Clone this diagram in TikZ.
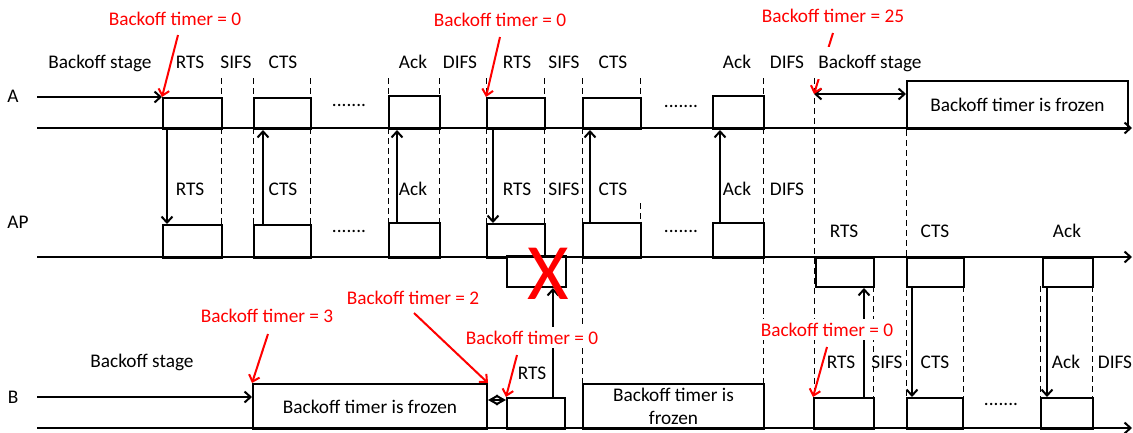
\documentclass[tikz,border=0pt]{standalone}
\usepackage{fontspec}
\setmainfont{Carlito}
\usetikzlibrary{arrows.meta,backgrounds}

\begin{document}
\begin{tikzpicture}[
  x=1pt, y=-1pt,
  font=\fontsize{19.3}{23}\selectfont,
  >={Straight Barb[length=6pt,width=11pt]},
  pkt/.style={draw,line width=2pt,fill=white,inner sep=0pt,anchor=north west,align=center},
  axis/.style={->,line width=2pt},
  ar/.style={->,line width=2pt},
  guide/.style={dash pattern=on 6pt off 4pt,line width=1pt},
  lbl/.style={anchor=base,inner sep=0pt},
  note/.style={anchor=base,inner xsep=1pt,inner ysep=4pt,fill=white,text=red},
  redar/.style={->,line width=2pt,red},
]
\useasboundingbox (0,0) rectangle (1133,432);

% station A
\node[pkt,minimum width=59pt,minimum height=31pt] (arts1) at (162,97) {};
\node[pkt,minimum width=57pt,minimum height=31pt] (acts1) at (253,97) {};
\node[pkt,minimum width=51pt,minimum height=33pt] (aack1) at (388,95) {};
\node[pkt,minimum width=58pt,minimum height=31pt] (arts2) at (486,97) {};
\node[pkt,minimum width=58pt,minimum height=31pt] (acts2) at (582,97) {};
\node[pkt,minimum width=51pt,minimum height=33pt] (aack2) at (712,95) {};
\node[pkt,minimum width=221pt,minimum height=48pt] (afrz) at (906,80) {Backoff timer is frozen};

% access point, above and below its line
\node[pkt,minimum width=59pt,minimum height=33pt] (prts1) at (162,224) {};
\node[pkt,minimum width=57pt,minimum height=33pt] (pcts1) at (253,224) {};
\node[pkt,minimum width=51pt,minimum height=35pt] (pack1) at (388,222) {};
\node[pkt,minimum width=58pt,minimum height=34pt] (prts2) at (486,223) {};
\node[pkt,minimum width=58pt,minimum height=35pt] (pcts2) at (582,222) {};
\node[pkt,minimum width=51pt,minimum height=35pt] (pack2) at (712,222) {};
\node[pkt,minimum width=59pt,minimum height=31pt] (pcol) at (506,255) {};
\node[pkt,minimum width=58pt,minimum height=29pt] (prts3) at (815,257) {};
\node[pkt,minimum width=57pt,minimum height=29pt] (pcts3) at (906,257) {};
\node[pkt,minimum width=50pt,minimum height=29pt] (pack3) at (1042,257) {};

% station B
\node[pkt,minimum width=234pt,minimum height=45pt] (bfrz1) at (252,383) {Backoff timer is frozen};
\node[pkt,minimum width=58pt,minimum height=31pt] (brts1) at (506,397) {};
\node[pkt,minimum width=181pt,minimum height=45pt] (bfrz2) at (582,383) {Backoff timer is\\frozen};
\node[pkt,minimum width=60pt,minimum height=31pt] (brts2) at (813,397) {};
\node[pkt,minimum width=56pt,minimum height=31pt] (bcts) at (906,397) {};
\node[pkt,minimum width=52pt,minimum height=31pt] (back) at (1040,397) {};

% slot boundaries
\begin{scope}[on background layer]
  \draw[guide] (221,78) -- (221,224) (253,78) -- (253,224) (310,78) -- (310,224);
  \draw[guide] (388,78) -- (388,222) (439,78) -- (439,222);
  \draw[guide] (486,78) -- (486,223) (544,78) -- (544,223);
  \draw[guide] (582,78) -- (582,383) (640,78) -- (640,97) (640,203) -- (640,222);
  \draw[guide] (763,78) -- (763,383) (814,78) -- (814,397) (906,80) -- (906,397);
  \draw[guide] (873,286) -- (873,397) (963,286) -- (963,397);
  \draw[guide] (1040,286) -- (1040,397) (1092,286) -- (1092,397);
\end{scope}

% time lines
\coordinate (lA) at (37,128);  \coordinate (eA) at (1132,128);
\coordinate (lP) at (37,257);  \coordinate (eP) at (1132,257);
\coordinate (lB) at (37,428);  \coordinate (eB) at (1132,428);
\draw[axis] (lA) -- (eA);
\draw[axis] (lP) -- (eP);
\draw[axis] (lB) -- (eB);

\coordinate (sA) at (37,97);
\coordinate (sB) at (37,397);
\coordinate (bsA) at (814,94);
\draw[ar] (sA) -- (arts1.north west);
\draw[ar] (sB) -- (sB -| bfrz1.west);
\draw[ar,<->] (bsA) -- (bsA -| afrz.west);
\draw[ar,{Straight Barb[length=8pt,width=9pt]}-{Straight Barb[length=8pt,width=9pt]}]
  ([yshift=6.5pt]bfrz1.east) -- ([yshift=6.5pt]bfrz1.east -| brts1.west);

% frames between stations
\draw[ar] ([xshift=5pt]arts1.south west) -- ([xshift=5pt]prts1.north west);
\draw[ar] ([xshift=10pt]pcts1.north west) -- ([xshift=10pt]acts1.south west);
\draw[ar] ([xshift=9pt]pack1.north west) -- ([xshift=9pt]aack1.south west);
\draw[ar] ([xshift=7pt]arts2.south west) -- ([xshift=7pt]prts2.north west);
\draw[ar] ([xshift=8pt]pcts2.north west) -- ([xshift=8pt]acts2.south west);
\draw[ar] ([xshift=8pt]pack2.north west) -- ([xshift=8pt]aack2.south west);
\draw[ar] ([xshift=47pt]brts1.north west) -- ([xshift=47pt]pcol.south west);
\draw[ar] ([xshift=51pt]brts2.north west) -- ([xshift=51pt]brts2.north west |- prts3.south);
\draw[ar] ([xshift=6pt]pcts3.south west) -- ([xshift=6pt]bcts.north west);
\draw[ar] ([xshift=5pt]pack3.south west) -- ([xshift=5pt]pack3.south west |- back.north);

% backoff counters
\coordinate (r1s) at (178,35);
\coordinate (r2s) at (500,37);
\coordinate (r3s) at (833,33);
\coordinate (r4s) at (268,334);
\coordinate (r5s) at (414,313);
\coordinate (r6s) at (517,355);
\coordinate (r7s) at (827,347);
\draw[redar] (r1s) -- (arts1.north west);
\draw[redar] (r2s) -- (arts2.north west);
\draw[redar] (r3s) -- (bsA);
\draw[redar] (r4s) -- (bfrz1.north west);
\draw[redar] (r5s) -- (bfrz1.north east);
\draw[redar] (r6s) -- (brts1.north west);
\draw[redar] (r7s) -- (brts2.north west);

% station names
\node[lbl] (nA) at (13,102) {A};
\node[lbl] (nP) at (18,228) {AP};
\node[lbl] (nB) at (13,403) {B};

% labels above A
\node[lbl] (tbs1) at (100,68) {Backoff stage};
\node[lbl] (tr1) at (190,68) {RTS};
\node[lbl] (ts1) at (236,68) {SIFS};
\node[lbl] (tc1) at (283,68) {CTS};
\node[lbl] (ta1) at (413,68) {Ack};
\node[lbl] (td1) at (460,68) {DIFS};
\node[lbl] (tr2) at (517,68) {RTS};
\node[lbl] (ts2) at (564,68) {SIFS};
\node[lbl] (tc2) at (613,68) {CTS};
\node[lbl] (ta2) at (737,68) {Ack};
\node[lbl] (td2) at (787,68) {DIFS};
\node[lbl,fill=white,inner xsep=1pt,inner ysep=8pt] (tbs2) at (870,68) {Backoff stage};
\node[lbl] (dA1) at (349,106) {.......};
\node[lbl] (dA2) at (681,107) {.......};

% labels between A and AP
\node[lbl] (mr1) at (190,195) {RTS};
\node[lbl] (mc1) at (283,195) {CTS};
\node[lbl] (ma1) at (413,195) {Ack};
\node[lbl] (mr2) at (517,195) {RTS};
\node[lbl] (ms2) at (564,195) {SIFS};
\node[lbl] (mc2) at (613,195) {CTS};
\node[lbl] (ma2) at (737,195) {Ack};
\node[lbl] (md2) at (787,195) {DIFS};
\node[lbl] (dP1) at (349,232) {.......};
\node[lbl] (dP2) at (681,232) {.......};
\node[lbl] (pr3) at (844,237) {RTS};
\node[lbl] (pc3) at (935,237) {CTS};
\node[lbl] (pa3) at (1067,237) {Ack};

% labels above B
\node[lbl] (bbs) at (142,367) {Backoff stage};
\node[lbl] (br1) at (532,379) {RTS};
\node[lbl] (br2) at (841,368) {RTS};
\node[lbl] (bs2) at (887,368) {SIFS};
\node[lbl] (bc2) at (935,368) {CTS};
\node[lbl] (ba2) at (1066,368) {Ack};
\node[lbl] (bd2) at (1115,368) {DIFS};
\node[lbl] (dB) at (1001,405) {.......};

% counter values
\node[note] (r1) at (175,25) {Backoff timer = 0};
\node[note] (r2) at (500,26) {Backoff timer = 0};
\node[note] (r3) at (833,22) {Backoff timer = 25};
\node[note] (r4) at (267,322) {Backoff timer = 3};
\node[note] (r5) at (413,304) {Backoff timer = 2};
\node[note] (r6) at (532,344) {Backoff timer = 0};
\node[note] (r7) at (827,336) {Backoff timer = 0};

% collision
\node[text=red,font=\fontsize{80}{80}\selectfont,inner sep=0pt] (hit) at (548,274) {X};
\end{tikzpicture}
\end{document}
